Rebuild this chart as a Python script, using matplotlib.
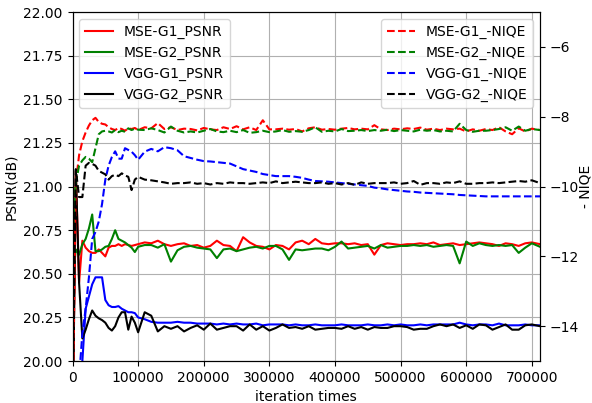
import matplotlib
matplotlib.use("Agg")
import matplotlib.pyplot as plt

# iteration steps
iters = list(range(0, 100001, 5000)) + list(range(110000, 700001, 10000)) + [712500]

mse_g1_psnr = [19.6, 21.09, 20.45, 20.69, 20.65, 20.63, 20.62, 20.62, 20.64, 20.62,
               20.60, 20.65, 20.66, 20.66, 20.67, 20.66, 20.67, 20.665, 20.66, 20.665, 20.67,
               20.68, 20.675, 20.69, 20.67, 20.66, 20.67, 20.675, 20.66, 20.665, 20.65,
               20.66, 20.69, 20.665, 20.66, 20.63, 20.71, 20.68, 20.66, 20.655, 20.64,
               20.665, 20.66, 20.64, 20.68, 20.69, 20.67, 20.70, 20.675, 20.67, 20.675,
               20.675, 20.67, 20.675, 20.665, 20.67, 20.61, 20.665, 20.675, 20.67, 20.665,
               20.67, 20.67, 20.675, 20.67, 20.68, 20.665, 20.67, 20.675, 20.665, 20.67,
               20.675, 20.68, 20.675, 20.67, 20.66, 20.675, 20.67, 20.66, 20.675, 20.68,
               20.67]
mse_g2_psnr = [20.45, 20.64, 20.61, 20.67, 20.70, 20.76, 20.84, 20.63, 20.63, 20.64,
               20.655, 20.66, 20.70, 20.75, 20.70, 20.69, 20.68, 20.665, 20.65, 20.625, 20.655,
               20.665, 20.665, 20.65, 20.67, 20.57, 20.635, 20.655, 20.66, 20.65, 20.645,
               20.64, 20.59, 20.64, 20.645, 20.63, 20.64, 20.65, 20.655, 20.645, 20.66,
               20.66, 20.64, 20.58, 20.64, 20.635, 20.64, 20.645, 20.645, 20.635, 20.655,
               20.685, 20.645, 20.65, 20.655, 20.66, 20.645, 20.665, 20.65, 20.655, 20.66,
               20.66, 20.665, 20.66, 20.665, 20.655, 20.66, 20.665, 20.66, 20.56, 20.685,
               20.66, 20.675, 20.665, 20.66, 20.665, 20.66, 20.665, 20.62, 20.65, 20.675,
               20.655]
vgg_g1_psnr = [19.5, 19.7, 19.9, 20.0, 20.30, 20.37, 20.44, 20.48, 20.48, 20.48,
               20.35, 20.32, 20.31, 20.31, 20.315, 20.30, 20.29, 20.28, 20.28, 20.275, 20.25,
               20.24, 20.225, 20.22, 20.22, 20.22, 20.225, 20.22, 20.22, 20.215, 20.215,
               20.215, 20.21, 20.215, 20.21, 20.215, 20.21, 20.21, 20.215, 20.205, 20.21,
               20.21, 20.21, 20.205, 20.21, 20.205, 20.205, 20.21, 20.205, 20.205, 20.205,
               20.21, 20.205, 20.205, 20.205, 20.21, 20.205, 20.205, 20.21, 20.205, 20.21,
               20.205, 20.205, 20.21, 20.205, 20.21, 20.21, 20.21, 20.21, 20.22, 20.21,
               20.205, 20.21, 20.21, 20.205, 20.215, 20.205, 20.205, 20.205, 20.21, 20.205,
               20.205]
vgg_g2_psnr = [19.5, 21.09, 20.45, 20.13, 20.18, 20.24, 20.29, 20.26, 20.245, 20.235,
               20.22, 20.19, 20.175, 20.20, 20.25, 20.28, 20.28, 20.18, 20.255, 20.22, 20.165,
               20.28, 20.26, 20.17, 20.20, 20.185, 20.20, 20.17, 20.19, 20.205, 20.18,
               20.215, 20.18, 20.19, 20.20, 20.20, 20.175, 20.21, 20.18, 20.20, 20.175,
               20.19, 20.21, 20.19, 20.195, 20.185, 20.20, 20.18, 20.185, 20.19, 20.19,
               20.185, 20.20, 20.185, 20.195, 20.18, 20.195, 20.19, 20.19, 20.20, 20.20,
               20.195, 20.18, 20.185, 20.185, 20.20, 20.21, 20.20, 20.21, 20.19, 20.205,
               20.185, 20.21, 20.205, 20.18, 20.195, 20.21, 20.18, 20.18, 20.205, 20.21,
               20.20]

mse_g1_niqe = [-17.0, -9.9, -9.1, -8.7, -8.45, -8.25, -8.1, -8.03, -8.15, -8.2,
               -8.22, -8.3, -8.35, -8.38, -8.32, -8.35, -8.4, -8.33, -8.35, -8.32, -8.38,
               -8.3, -8.33, -8.18, -8.35, -8.3, -8.38, -8.34, -8.35, -8.39, -8.32,
               -8.36, -8.38, -8.3, -8.35, -8.27, -8.36, -8.3, -8.38, -8.1, -8.36,
               -8.36, -8.34, -8.37, -8.35, -8.42, -8.33, -8.3, -8.37, -8.35, -8.37,
               -8.34, -8.32, -8.36, -8.34, -8.36, -8.24, -8.36, -8.38, -8.34, -8.36,
               -8.33, -8.35, -8.31, -8.37, -8.34, -8.38, -8.34, -8.36, -8.34, -8.42,
               -8.36, -8.4, -8.35, -8.38, -8.3, -8.42, -8.5, -8.33, -8.42, -8.34,
               -8.38]
mse_g2_niqe = [-11.5, -9.9, -9.4, -9.25, -9.15, -9.2, -9.3, -8.9, -8.5, -8.42,
               -8.4, -8.42, -8.45, -8.38, -8.44, -8.4, -8.43, -8.33, -8.38, -8.34, -8.37,
               -8.38, -8.33, -8.38, -8.45, -8.28, -8.4, -8.45, -8.42, -8.45, -8.4,
               -8.35, -8.42, -8.44, -8.4, -8.44, -8.38, -8.46, -8.44, -8.4, -8.44,
               -8.42, -8.38, -8.43, -8.41, -8.43, -8.38, -8.3, -8.43, -8.4, -8.42,
               -8.35, -8.41, -8.4, -8.38, -8.41, -8.38, -8.4, -8.37, -8.41, -8.38,
               -8.4, -8.42, -8.37, -8.4, -8.38, -8.42, -8.4, -8.42, -8.2, -8.38,
               -8.43, -8.4, -8.4, -8.38, -8.35, -8.3, -8.4, -8.28, -8.4, -8.35,
               -8.38]
vgg_g1_niqe = [-22.0, -19.0, -15.5, -14.2, -13.5, -12.6, -11.5, -11.3, -11.0, -10.5,
               -9.8, -9.4, -9.15, -8.99, -9.2, -9.2, -8.9, -8.95, -9.0, -9.1, -9.23,
               -9.0, -8.92, -8.99, -8.87, -8.9, -8.96, -9.13, -9.18, -9.23, -9.27,
               -9.28, -9.3, -9.32, -9.34, -9.42, -9.5, -9.54, -9.58, -9.64, -9.67,
               -9.7, -9.7, -9.7, -9.72, -9.75, -9.8, -9.84, -9.85, -9.86, -9.88,
               -9.9, -9.92, -9.94, -9.96, -9.98, -10.03, -10.05, -10.08, -10.1, -10.12,
               -10.14, -10.15, -10.17, -10.18, -10.19, -10.2, -10.21, -10.22, -10.24, -10.25,
               -10.26, -10.27, -10.28, -10.28, -10.28, -10.28, -10.28, -10.28, -10.28, -10.28,
               -10.28]
vgg_g2_niqe = [-16.0, -9.5, -10.3, -10.3, -9.4, -9.32, -9.35, -9.4, -9.55, -9.6,
               -9.65, -9.8, -9.7, -9.66, -9.7, -9.62, -9.68, -9.72, -10.1, -9.8, -9.72,
               -9.8, -9.82, -9.85, -9.88, -9.92, -9.9, -9.9, -9.88, -9.92, -9.9,
               -9.94, -9.9, -9.92, -9.88, -9.9, -9.9, -9.92, -9.9, -9.88, -9.9,
               -9.85, -9.9, -9.88, -9.86, -9.88, -9.9, -9.9, -9.88, -9.92, -9.9,
               -9.94, -9.9, -9.95, -9.88, -9.92, -9.9, -9.9, -9.9, -9.88, -9.92,
               -9.9, -9.84, -9.95, -9.9, -9.9, -9.92, -9.88, -9.9, -9.85, -9.92,
               -9.92, -9.9, -9.9, -9.88, -9.9, -9.88, -9.86, -9.84, -9.86, -9.82,
               -9.9]

fig = plt.figure(figsize=(5.92, 4.03), dpi=100)
ax = fig.add_axes([0.1225, 0.104, 0.7897, 0.866])
ax.plot(iters, mse_g1_psnr, color="r", label="MSE-G1_PSNR")
ax.plot(iters, mse_g2_psnr, color="g", label="MSE-G2_PSNR")
ax.plot(iters, vgg_g1_psnr, color="b", label="VGG-G1_PSNR")
ax.plot(iters, vgg_g2_psnr, color="k", label="VGG-G2_PSNR")
ax.set_xlim(0, 712500)
ax.set_ylim(20.0, 22.0)
ax.set_yticks([20.0, 20.25, 20.5, 20.75, 21.0, 21.25, 21.5, 21.75, 22.0])
ax.set_yticklabels(["%.2f" % v for v in ax.get_yticks()])
ax.set_xticks([0, 100000, 200000, 300000, 400000, 500000, 600000, 700000])
ax.set_xticklabels(["0", "100000", "200000", "300000", "400000", "500000", "600000", "700000"])
ax.set_xlabel("iteration times")
ax.set_ylabel("PSNR(dB)")
ax.grid(True, color="#b0b0b0", linewidth=0.8)
ax.legend(loc="upper left")

ax2 = ax.twinx()
ax2.plot(iters, mse_g1_niqe, color="r", linestyle="--", label="MSE-G1_-NIQE")
ax2.plot(iters, mse_g2_niqe, color="g", linestyle="--", label="MSE-G2_-NIQE")
ax2.plot(iters, vgg_g1_niqe, color="b", linestyle="--", label="VGG-G1_-NIQE")
ax2.plot(iters, vgg_g2_niqe, color="k", linestyle="--", label="VGG-G2_-NIQE")
ax2.set_ylim(-15, -5)
ax2.set_yticks([-14, -12, -10, -8, -6])
ax2.set_ylabel("- NIQE", labelpad=0)
ax2.legend(loc="upper right")

fig.savefig("out.png", dpi=100)
